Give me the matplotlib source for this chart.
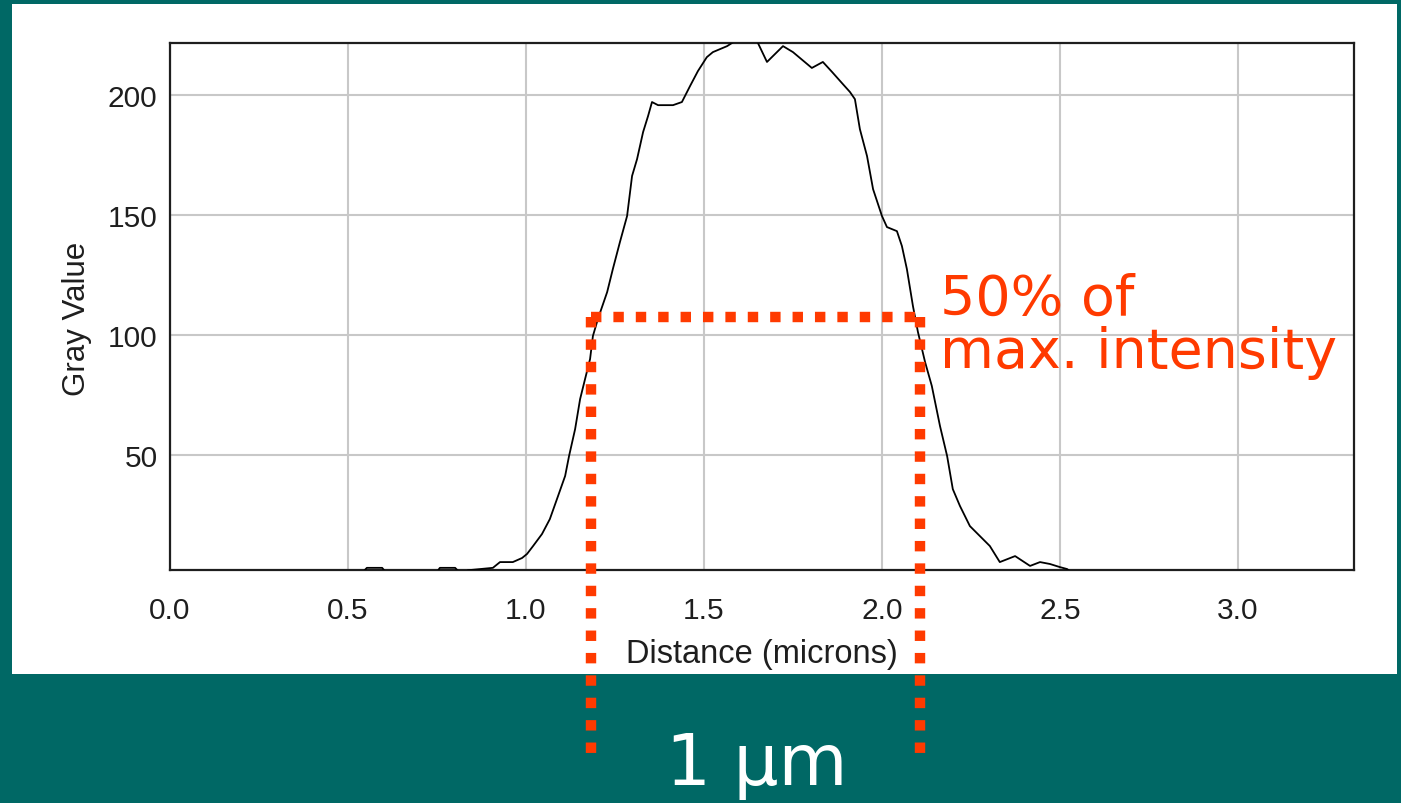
import matplotlib
matplotlib.use("Agg")
import matplotlib.pyplot as plt
from matplotlib.patches import Rectangle

# ---- data ----
distance = [0.0, 0.534, 0.553, 0.596, 0.612, 0.744, 0.758, 0.801, 0.820, 0.837, 0.907,
            0.927, 0.963, 0.989, 1.003, 1.020, 1.045, 1.067, 1.090, 1.110, 1.121,
            1.138, 1.152, 1.166, 1.180, 1.188, 1.202, 1.228, 1.244, 1.264, 1.284,
            1.298, 1.312, 1.329, 1.343, 1.354, 1.371, 1.413, 1.438, 1.461, 1.483,
            1.508, 1.525, 1.565, 1.587, 1.649, 1.677, 1.722, 1.750, 1.803, 1.834,
            1.860, 1.890, 1.910, 1.924, 1.938, 1.958, 1.975, 2.000, 2.014, 2.042,
            2.056, 2.070, 2.087, 2.101, 2.121, 2.140, 2.163, 2.183, 2.199, 2.219,
            2.247, 2.303, 2.331, 2.374, 2.416, 2.444, 2.472, 2.500, 2.520, 2.542,
            3.326]
gray_value = [0, 0, 3, 3, 0, 0, 3, 3, 0, 2, 3,
              5.4, 5.4, 7.1, 8.8, 12.1, 17.1, 23.3, 32.9, 41.3, 49.6,
              60.8, 73.3, 81.7, 90.0, 99.6, 106.7, 117.9, 127.5, 138.8, 149.6,
              166.3, 173.3, 184.6, 191.3, 197.1, 195.8, 195.8, 197.1, 203.8, 210.0,
              215.8, 217.9, 220.4, 222.5, 222.5, 213.8, 220.4, 217.9, 211.3, 213.8,
              209.6, 204.6, 201.3, 198.3, 185.8, 174.6, 160.8, 149.6, 145.0, 143.3,
              137.1, 127.5, 112.1, 101.3, 88.8, 78.8, 62.1, 49.6, 35.8, 28.8,
              20.4, 12.1, 5.4, 7.9, 3.8, 5.4, 4.6, 3.3, 2.5, 0,
              0]
x_ticks = [0.0, 0.5, 1.0, 1.5, 2.0, 2.5, 3.0]
x_tick_labels = ["0.0", "0.5", "1.0", "1.5", "2.0", "2.5", "3.0"]
y_ticks = [50, 100, 150, 200]
y_tick_labels = ["50", "100", "150", "200"]
half_max = 107.5
fwhm_left = 1.183
fwhm_right = 2.107

TEAL = "#006865"
RED = "#ff3a00"
INK = "#1e1e1e"

fig = plt.figure(figsize=(14.01, 8.04), dpi=100)
fig.patch.set_facecolor(TEAL)
fig.patches.append(Rectangle((12 / 1401, 1 - 675 / 804), (1397 - 12) / 1401, (675 - 5) / 804,
                             transform=fig.transFigure, facecolor="white", edgecolor="none", zorder=-5))

ax = fig.add_axes([170 / 1401, 1 - 571 / 804, (1354 - 170) / 1401, (571 - 44) / 804])
ax.set_zorder(2)
ax.set_facecolor("white")
ax.plot(distance, gray_value, color="black", lw=1.3, zorder=3)
ax.set_xlim(0, 3.326)
ax.set_ylim(2.1, 221.7)
ax.set_xticks(x_ticks)
ax.set_xticklabels(x_tick_labels)
ax.set_yticks(y_ticks)
ax.set_yticklabels(y_tick_labels)
ax.grid(True, color="#c8c8c8", lw=1.5)
ax.set_axisbelow(True)
for s in ax.spines.values():
    s.set_color(INK)
    s.set_linewidth(1.6)
ax.tick_params(length=0, labelsize=21.5, colors=INK)
ax.tick_params(axis="x", pad=19)
ax.tick_params(axis="y", pad=9)
for lab in ax.get_xticklabels() + ax.get_yticklabels():
    lab.set_family("Liberation Sans")
ax.set_xlabel("Distance (microns)", family="Liberation Sans", fontsize=23.5, labelpad=10, color=INK)
ax.set_ylabel("Gray Value", family="Liberation Sans", fontsize=22.5, color=INK)
ax.yaxis.set_label_coords(-0.066, 0.478)

# annotation: half-maximum lines
dot = dict(color=RED, lw=7.5, linestyle=(0, (1.0, 1.15)), solid_capstyle="butt",
           dash_capstyle="butt", clip_on=False, zorder=5)
ax.plot([fwhm_left, fwhm_right], [half_max, half_max], **dot)
ax.plot([fwhm_left, fwhm_left], [half_max, -74.6], **dot)
ax.plot([fwhm_right, fwhm_right], [half_max, -74.6], **dot)

fig.text(940 / 1401, 1 - 368 / 804, "50% of\nmax. intensity", color=RED, family="DejaVu Sans",
         fontsize=40, ha="left", va="baseline", linespacing=0.98, zorder=6)
fig.text(757 / 1401, 1 - 785 / 804, "1 µm", color="white", family="DejaVu Sans",
         fontsize=51, ha="center", va="baseline")

fig.savefig("out.png", dpi=100, facecolor=TEAL)
